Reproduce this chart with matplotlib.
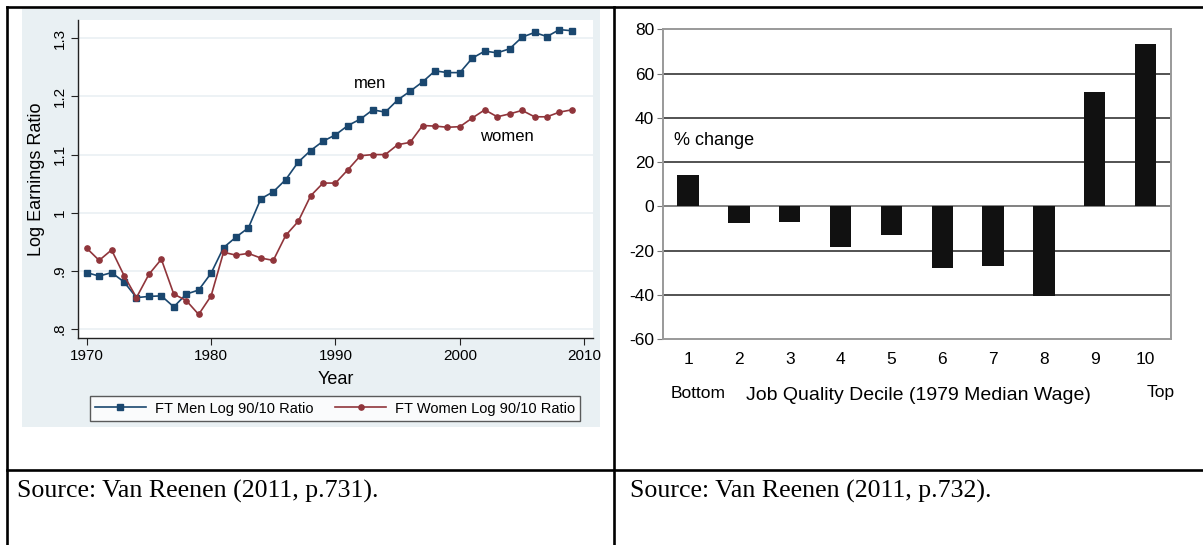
import numpy as np
import matplotlib.pyplot as plt
from matplotlib.patches import Rectangle
from matplotlib.lines import Line2D

plt.rcParams['font.family'] = ['Liberation Sans', 'DejaVu Sans']
plt.rcParams['axes.unicode_minus'] = False

# left chart: log 90/10 earnings ratio
years = np.arange(1970, 2010)
men = [0.897, 0.891, 0.897, 0.881, 0.854, 0.856, 0.857, 0.838, 0.860, 0.867,
       0.896, 0.940, 0.958, 0.974, 1.024, 1.036, 1.057, 1.087, 1.107, 1.123,
       1.134, 1.150, 1.161, 1.177, 1.173, 1.194, 1.209, 1.225, 1.244, 1.241,
       1.241, 1.266, 1.278, 1.275, 1.282, 1.302, 1.310, 1.303, 1.315, 1.313]
women = [0.939, 0.918, 0.936, 0.892, 0.854, 0.894, 0.920, 0.860, 0.849, 0.825,
         0.857, 0.932, 0.927, 0.930, 0.922, 0.918, 0.961, 0.985, 1.029, 1.051,
         1.051, 1.074, 1.098, 1.100, 1.100, 1.117, 1.121, 1.150, 1.149, 1.147,
         1.148, 1.163, 1.177, 1.165, 1.170, 1.176, 1.165, 1.165, 1.173, 1.177]
yticks_left = [0.8, 0.9, 1.0, 1.1, 1.2, 1.3]
yticklabels_left = ['.8', '.9', '1', '1.1', '1.2', '1.3']
xticks_left = [1970, 1980, 1990, 2000, 2010]

# right chart: % change in employment by job quality decile
deciles = np.arange(1, 11)
pct_change = [14.4, -7.6, -6.9, -18.3, -13.0, -28.0, -26.9, -40.3, 51.6, 73.2]

W, H = 1203, 545
fig = plt.figure(figsize=(W / 100, H / 100), dpi=100)

def fx(px):
    return px / W

def fy(py):
    return 1 - py / H

# grey Stata panel behind left chart
fig.patches.append(Rectangle((fx(22), fy(427)), fx(600) - fx(22), fy(9) - fy(427),
                             transform=fig.transFigure, facecolor='#e9f0f3',
                             edgecolor='none', zorder=-5))

navy = '#1a476f'
maroon = '#90353b'

ax1 = fig.add_axes([fx(78), fy(338), fx(593) - fx(78), fy(20) - fy(338)])
ax1.set_zorder(2)
ax1.set_facecolor('white')
ax1.plot(years, men, color=navy, lw=1.2, marker='s', ms=4.5, label='FT Men Log 90/10 Ratio')
ax1.plot(years, women, color=maroon, lw=1.2, marker='o', ms=3.8, label='FT Women Log 90/10 Ratio')
ax1.set_xlim(1969.3, 2010.7)
ax1.set_ylim(0.7845, 1.3315)
ax1.set_yticks(yticks_left)
ax1.set_yticklabels(yticklabels_left, rotation=90, va='center')
ax1.set_xticks(xticks_left)
ax1.grid(axis='y', color='#eaf0f3', lw=1.2)
ax1.set_axisbelow(True)
for s in ['top', 'right']:
    ax1.spines[s].set_visible(False)
for s in ['left', 'bottom']:
    ax1.spines[s].set_color('#222222')
    ax1.spines[s].set_linewidth(1.0)
ax1.tick_params(axis='both', labelsize=11, length=5, color='#222222', pad=3)
ax1.set_ylabel('Log Earnings Ratio', fontsize=13, labelpad=6)
ax1.set_xlabel('Year', fontsize=13, labelpad=6)
ax1.text(1992.8, 1.223, 'men', fontsize=12, ha='center', va='center')
ax1.text(2003.8, 1.131, 'women', fontsize=12, ha='center', va='center')
leg = ax1.legend(loc='center', bbox_to_anchor=(fx(335), fy(408.5)),
                 bbox_transform=fig.transFigure, ncol=2, fontsize=10.5,
                 frameon=True, fancybox=False, edgecolor='#333333',
                 handlelength=3.5, columnspacing=1.5, borderpad=0.35,
                 handletextpad=0.6)
leg.get_frame().set_linewidth(1.0)

# right chart
ax2 = fig.add_axes([fx(662.7), fy(339.3), fx(1171) - fx(662.7), fy(29.3) - fy(339.3)])
ax2.bar(deciles, pct_change, width=0.42, color='#111111', zorder=3)
ax2.set_xlim(0.5, 10.5)
ax2.set_ylim(-60, 80)
ax2.set_yticks(np.arange(-60, 81, 20))
ax2.set_xticks(deciles)
for v in [-40, -20, 20, 40, 60]:
    ax2.axhline(v, color='#444444', lw=1.3, zorder=1)
ax2.axhline(0, color='#777777', lw=1.3, zorder=1)
for s in ax2.spines.values():
    s.set_color('#999999')
    s.set_linewidth(1.4)
ax2.tick_params(axis='y', labelsize=12.5, length=4, color='#777777', pad=2)
ax2.tick_params(axis='x', labelsize=12.5, length=0, pad=9)
ax2.text(0.72, 30, '% change', fontsize=13, ha='left', va='center')
ax2.text(fx(698), fy(393), 'Bottom', transform=fig.transFigure, fontsize=12.5,
         ha='center', va='center')
ax2.text(fx(918), fy(395), 'Job Quality Decile (1979 Median Wage)', transform=fig.transFigure,
         fontsize=14, ha='center', va='center')
ax2.text(fx(1161), fy(393), 'Top', transform=fig.transFigure, fontsize=12.5,
         ha='center', va='center')

# table borders
lw_tab = 1.9
for (x0, y0, x1, y1) in [(7, 7, W, 7), (7, 470, W, 470), (7, 7, 7, H), (614, 7, 614, H)]:
    fig.add_artist(Line2D([fx(x0), fx(x1)], [fy(y0), fy(y1)], transform=fig.transFigure,
                          color='black', lw=lw_tab))

# source captions
fig.text(fx(17), fy(491), 'Source: Van Reenen (2011, p.731).', fontsize=18.6,
         family=['Liberation Serif'], ha='left', va='center')
fig.text(fx(630), fy(491), 'Source: Van Reenen (2011, p.732).', fontsize=18.6,
         family=['Liberation Serif'], ha='left', va='center')

fig.savefig('out.png', dpi=100)
